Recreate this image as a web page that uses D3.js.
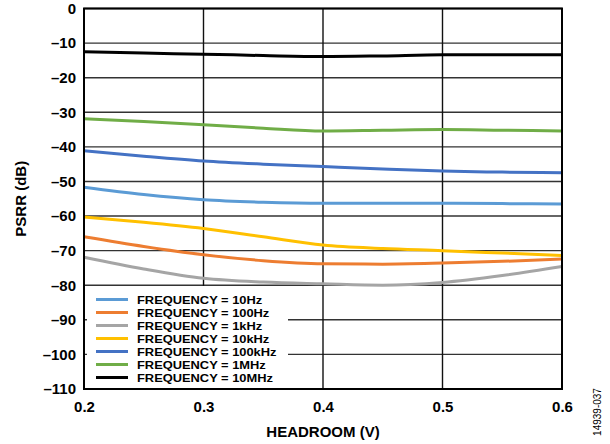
<!DOCTYPE html>
<html lang="en">
<head>
    <meta charset="UTF-8">
    <title>PSRR vs Headroom</title>
    <script src="https://d3js.org/d3.v7.min.js"></script>
    <style>
        body {
            margin: 0;
            background: #fff;
            font-family: Arial, "Liberation Sans", sans-serif;
        }
        .tick-label {
            font-size: 15px;
            font-weight: bold;
            fill: #000;
        }
        .legend-text {
            font-size: 11.2px;
            font-weight: bold;
            fill: #000;
        }
    </style>
</head>
<body>
    <svg id="chart" width="610" height="444"></svg>
    <script>
        // Headroom (V) sample points
        const headroom = [0.2, 0.25, 0.3, 0.35, 0.4, 0.45, 0.5, 0.55, 0.6];

        // PSRR (dB) per frequency
        const f10Hz   = [-51.7, -53.8, -55.3, -56.0, -56.3, -56.3, -56.3, -56.4, -56.5];
        const f100Hz  = [-66.0, -68.8, -71.2, -72.9, -73.8, -73.9, -73.6, -73.1, -72.4];
        const f1kHz   = [-71.9, -75.3, -78.0, -79.1, -79.6, -80.0, -79.2, -77.2, -74.6];
        const f10kHz  = [-60.3, -61.8, -63.6, -66.0, -68.4, -69.4, -70.0, -70.7, -71.4];
        const f100kHz = [-41.1, -42.7, -44.1, -45.0, -45.7, -46.4, -47.0, -47.3, -47.5];
        const f1MHz   = [-31.9, -32.7, -33.6, -34.6, -35.4, -35.2, -35.0, -35.2, -35.4];
        const f10MHz  = [-12.5, -12.9, -13.2, -13.6, -13.9, -13.7, -13.4, -13.4, -13.4];

        const seriesNames = ["FREQUENCY = 10Hz", "FREQUENCY = 100Hz", "FREQUENCY = 1kHz",
            "FREQUENCY = 10kHz", "FREQUENCY = 100kHz", "FREQUENCY = 1MHz", "FREQUENCY = 10MHz"];
        const seriesValues = [f10Hz, f100Hz, f1kHz, f10kHz, f100kHz, f1MHz, f10MHz];
        const seriesColors = ["#5B9BD5", "#ED7D31", "#A5A5A5", "#FFC000", "#4472C4", "#70AD47", "#000000"];

        const xTicks = [0.2, 0.3, 0.4, 0.5, 0.6];
        const yTicks = [0, -10, -20, -30, -40, -50, -60, -70, -80, -90, -100, -110];

        const svg = d3.select("#chart");
        const plotLeft = 84, plotRight = 562, plotTop = 8.5, plotBottom = 389;

        const x = d3.scaleLinear().domain([0.2, 0.6]).range([plotLeft, plotRight]);
        const y = d3.scaleLinear().domain([0, -110]).range([plotTop, plotBottom]);

        // grid
        const grid = svg.append("g");
        grid.selectAll(".hgrid")
            .data(yTicks)
            .enter()
            .append("line")
            .attr("x1", plotLeft).attr("x2", plotRight)
            .attr("y1", d => y(d)).attr("y2", d => y(d))
            .attr("stroke", "#333")
            .attr("stroke-width", 1.4);
        grid.selectAll(".vgrid")
            .data(xTicks)
            .enter()
            .append("line")
            .attr("x1", d => x(d)).attr("x2", d => x(d))
            .attr("y1", plotTop).attr("y2", plotBottom)
            .attr("stroke", "#111")
            .attr("stroke-width", 1.4);

        // curves
        const line = d3.line()
            .x(d => x(d[0]))
            .y(d => y(d[1]))
            .curve(d3.curveMonotoneX);

        const order = [6, 5, 4, 0, 3, 1, 2];
        order.forEach(i => {
            svg.append("path")
                .attr("d", line(headroom.map((h, k) => [h, seriesValues[i][k]])))
                .attr("fill", "none")
                .attr("stroke", seriesColors[i])
                .attr("stroke-width", 3);
        });

        // legend box
        const legend = svg.append("g");
        legend.append("rect")
            .attr("x", 87).attr("y", 286)
            .attr("width", 201).attr("height", plotBottom - 286)
            .attr("fill", "#fff");
        seriesNames.forEach((name, i) => {
            const ly = 299.5 + i * 13;
            legend.append("line")
                .attr("x1", 96).attr("x2", 128)
                .attr("y1", ly).attr("y2", ly)
                .attr("stroke", seriesColors[i])
                .attr("stroke-width", 3);
            legend.append("text")
                .attr("class", "legend-text")
                .attr("transform", `translate(137,${ly + 4.2}) scale(1.15,1)`)
                .text(name);
        });

        // frame
        svg.append("rect")
            .attr("x", plotLeft).attr("y", plotTop)
            .attr("width", plotRight - plotLeft).attr("height", plotBottom - plotTop)
            .attr("fill", "none")
            .attr("stroke", "#000")
            .attr("stroke-width", 2);

        // axes labels
        const yAxis = d3.axisLeft(y)
            .tickValues(yTicks)
            .tickSize(0)
            .tickPadding(8)
            .tickFormat(d => d < 0 ? "\u2013" + Math.abs(d) : String(d));
        const yg = svg.append("g").attr("transform", `translate(${plotLeft},0)`).call(yAxis);
        yg.select(".domain").remove();
        yg.selectAll("text").attr("class", "tick-label");
        yg.attr("font-family", null).attr("font-size", null);

        const xAxis = d3.axisBottom(x)
            .tickValues(xTicks)
            .tickSize(0)
            .tickPadding(12)
            .tickFormat(d3.format(".1f"));
        const xg = svg.append("g").attr("transform", `translate(0,${plotBottom})`).call(xAxis);
        xg.select(".domain").remove();
        xg.selectAll("text").attr("class", "tick-label");
        xg.attr("font-family", null).attr("font-size", null);

        svg.append("text")
            .attr("class", "tick-label")
            .attr("x", (plotLeft + plotRight) / 2)
            .attr("y", 437)
            .attr("text-anchor", "middle")
            .text("HEADROOM (V)");

        svg.append("text")
            .attr("class", "tick-label")
            .attr("transform", `translate(26,${(plotTop + plotBottom) / 2}) rotate(-90)`)
            .attr("text-anchor", "middle")
            .text("PSRR (dB)");

        svg.append("text")
            .attr("transform", "translate(601,412) rotate(-90)")
            .attr("text-anchor", "middle")
            .attr("font-size", 10)
            .attr("fill", "#000")
            .text("14939-037");
    </script>
</body>
</html>
